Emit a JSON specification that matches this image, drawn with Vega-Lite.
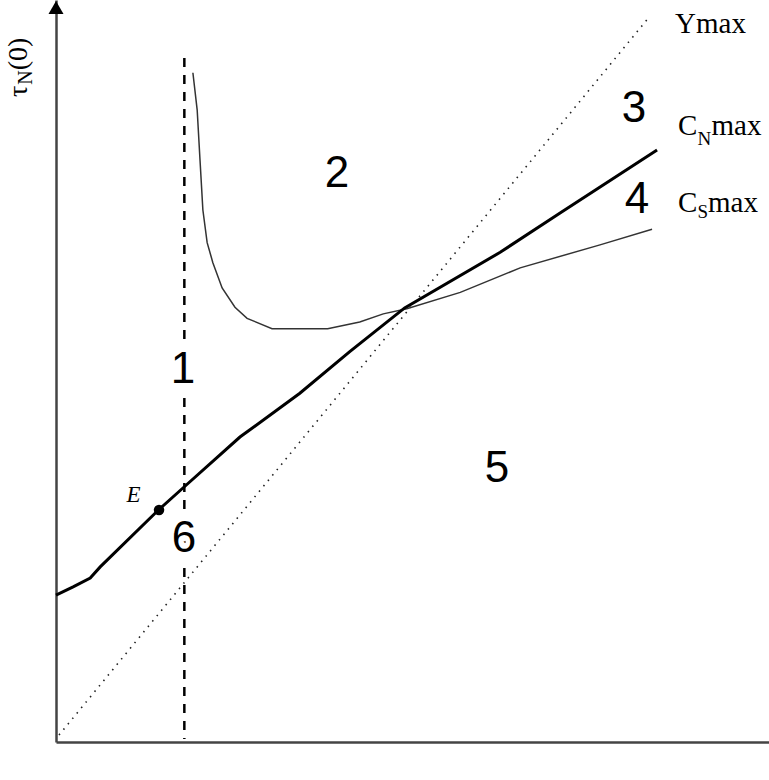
{
  "$schema": "https://vega.github.io/schema/vega-lite/v6.json",
  "width": 713,
  "height": 742,
  "autosize": {"type": "none"},
  "padding": {"left": 56, "top": 0, "right": 0, "bottom": 38},
  "background": "white",
  "config": {"view": {"stroke": null}},
  "datasets": {
    "curves": [
      {"s": "Ymax", "x": 0.42, "y": 0.94},
      {"s": "Ymax", "x": 83.31, "y": 97.84},
      {"s": "CN", "x": 0.0, "y": 19.8},
      {"s": "CN", "x": 2.4, "y": 20.9},
      {"s": "CN", "x": 4.8, "y": 22.1},
      {"s": "CN", "x": 6.2, "y": 23.6},
      {"s": "CN", "x": 14.4, "y": 31.3},
      {"s": "CN", "x": 18.0, "y": 34.4},
      {"s": "CN", "x": 25.8, "y": 41.1},
      {"s": "CN", "x": 34.2, "y": 47.0},
      {"s": "CN", "x": 41.2, "y": 52.6},
      {"s": "CN", "x": 48.9, "y": 58.5},
      {"s": "CN", "x": 62.3, "y": 66.0},
      {"s": "CN", "x": 70.7, "y": 71.3},
      {"s": "CN", "x": 84.3, "y": 79.8},
      {"s": "CS", "x": 19.2, "y": 90.2},
      {"s": "CS", "x": 19.8, "y": 85.2},
      {"s": "CS", "x": 20.2, "y": 78.4},
      {"s": "CS", "x": 20.6, "y": 71.7},
      {"s": "CS", "x": 21.2, "y": 67.3},
      {"s": "CS", "x": 22.0, "y": 64.6},
      {"s": "CS", "x": 23.3, "y": 61.2},
      {"s": "CS", "x": 25.1, "y": 58.6},
      {"s": "CS", "x": 26.8, "y": 57.1},
      {"s": "CS", "x": 30.3, "y": 55.7},
      {"s": "CS", "x": 38.1, "y": 55.7},
      {"s": "CS", "x": 42.6, "y": 56.6},
      {"s": "CS", "x": 45.9, "y": 57.7},
      {"s": "CS", "x": 49.2, "y": 58.4},
      {"s": "CS", "x": 56.7, "y": 60.6},
      {"s": "CS", "x": 65.1, "y": 63.9},
      {"s": "CS", "x": 76.3, "y": 67.0},
      {"s": "CS", "x": 83.6, "y": 69.1},
      {"s": "V", "x": 18.0, "y": 92.2},
      {"s": "V", "x": 18.0, "y": 0.4}
    ],
    "digits": [
      {"t": "1", "x": 17.81, "y": 48.38},
      {"t": "2", "x": 39.41, "y": 74.8},
      {"t": "3", "x": 81.07, "y": 83.56},
      {"t": "4", "x": 81.49, "y": 71.29},
      {"t": "5", "x": 61.85, "y": 35.04},
      {"t": "6", "x": 17.95, "y": 25.61}
    ],
    "serif": [
      {"t": "Ymax", "x": 86.82, "y": 95.55},
      {"t": "C", "x": 87.24, "y": 81.8},
      {"t": "max", "x": 91.93, "y": 81.8},
      {"t": "C", "x": 87.24, "y": 71.43},
      {"t": "max", "x": 91.44, "y": 71.43}
    ],
    "sub": [
      {"t": "N", "x": 89.97, "y": 80.46},
      {"t": "S", "x": 89.97, "y": 70.62}
    ],
    "ytitle": [
      {"t": "τ", "x": -4.07, "y": 86.93},
      {"t": "(0)", "x": -4.07, "y": 90.53}
    ],
    "ysub": [
      {"t": "N", "x": -3.37, "y": 88.59}
    ],
    "epoint": [
      {"t": "E", "x": 14.45, "y": 31.27, "lx": 9.9, "ly": 32.35}
    ],
    "arrow": [
      {"x": 0, "y": 98.99}
    ]
  },
  "encoding": {
    "x": {"field": "x", "type": "quantitative", "scale": {"domain": [0, 100], "nice": false, "zero": false},
          "axis": {"title": null, "labels": false, "ticks": false, "grid": false, "domainColor": "#444", "domainWidth": 2.5}},
    "y": {"field": "y", "type": "quantitative", "scale": {"domain": [0, 100], "nice": false, "zero": false},
          "axis": {"title": null, "labels": false, "ticks": false, "grid": false, "domainColor": "#444", "domainWidth": 2.5}}
  },
  "layer": [
    {
      "data": {"name": "curves"},
      "transform": [{"filter": "datum.s === 'Ymax'"}],
      "mark": {"type": "line", "stroke": "#222", "strokeWidth": 1.6, "strokeDash": [1.5, 5.5], "clip": false},
      "encoding": {}
    },
    {
      "data": {"name": "curves"},
      "transform": [{"filter": "datum.s === 'CS'"}],
      "mark": {"type": "line", "stroke": "#333", "strokeWidth": 1.5},
      "encoding": {}
    },
    {
      "data": {"name": "curves"},
      "transform": [{"filter": "datum.s === 'CN'"}],
      "mark": {"type": "line", "stroke": "#000", "strokeWidth": 3},
      "encoding": {}
    },
    {
      "data": {"name": "curves"},
      "transform": [{"filter": "datum.s === 'V'"}],
      "mark": {"type": "line", "stroke": "#000", "strokeWidth": 2.5, "strokeDash": [9, 8]},
      "encoding": {}
    },
    {
      "data": {"name": "digits"},
      "mark": {"type": "text", "font": "Liberation Sans", "fontSize": 44, "align": "center", "baseline": "alphabetic", "fill": "white", "stroke": "white", "strokeWidth": 22},
      "encoding": {"text": {"field": "t"}}
    },
    {
      "data": {"name": "digits"},
      "mark": {"type": "text", "font": "Liberation Sans", "fontSize": 44, "align": "center", "baseline": "alphabetic", "fill": "black"},
      "encoding": {"text": {"field": "t"}}
    },
    {
      "data": {"name": "epoint"},
      "mark": {"type": "point", "shape": "circle", "filled": true, "fill": "black", "size": 110, "opacity": 1},
      "encoding": {}
    },
    {
      "data": {"name": "epoint"},
      "mark": {"type": "text", "font": "Liberation Serif", "fontStyle": "italic", "fontSize": 23, "align": "left", "baseline": "alphabetic", "fill": "black"},
      "encoding": {"x": {"field": "lx", "type": "quantitative"}, "y": {"field": "ly", "type": "quantitative"}, "text": {"field": "t"}}
    },
    {
      "data": {"name": "serif"},
      "mark": {"type": "text", "font": "Liberation Serif", "fontSize": 29, "align": "left", "baseline": "alphabetic", "fill": "black"},
      "encoding": {"text": {"field": "t"}}
    },
    {
      "data": {"name": "sub"},
      "mark": {"type": "text", "font": "Liberation Serif", "fontSize": 19, "align": "left", "baseline": "alphabetic", "fill": "black"},
      "encoding": {"text": {"field": "t"}}
    },
    {
      "data": {"name": "ytitle"},
      "mark": {"type": "text", "font": "Liberation Serif", "fontSize": 28, "align": "left", "baseline": "alphabetic", "angle": 270, "fill": "black"},
      "encoding": {"text": {"field": "t"}}
    },
    {
      "data": {"name": "ysub"},
      "mark": {"type": "text", "font": "Liberation Serif", "fontSize": 20, "align": "left", "baseline": "alphabetic", "angle": 270, "fill": "black"},
      "encoding": {"text": {"field": "t"}}
    },
    {
      "data": {"name": "arrow"},
      "mark": {"type": "point", "shape": "triangle-up", "filled": true, "fill": "black", "size": 225, "opacity": 1},
      "encoding": {}
    }
  ]
}
